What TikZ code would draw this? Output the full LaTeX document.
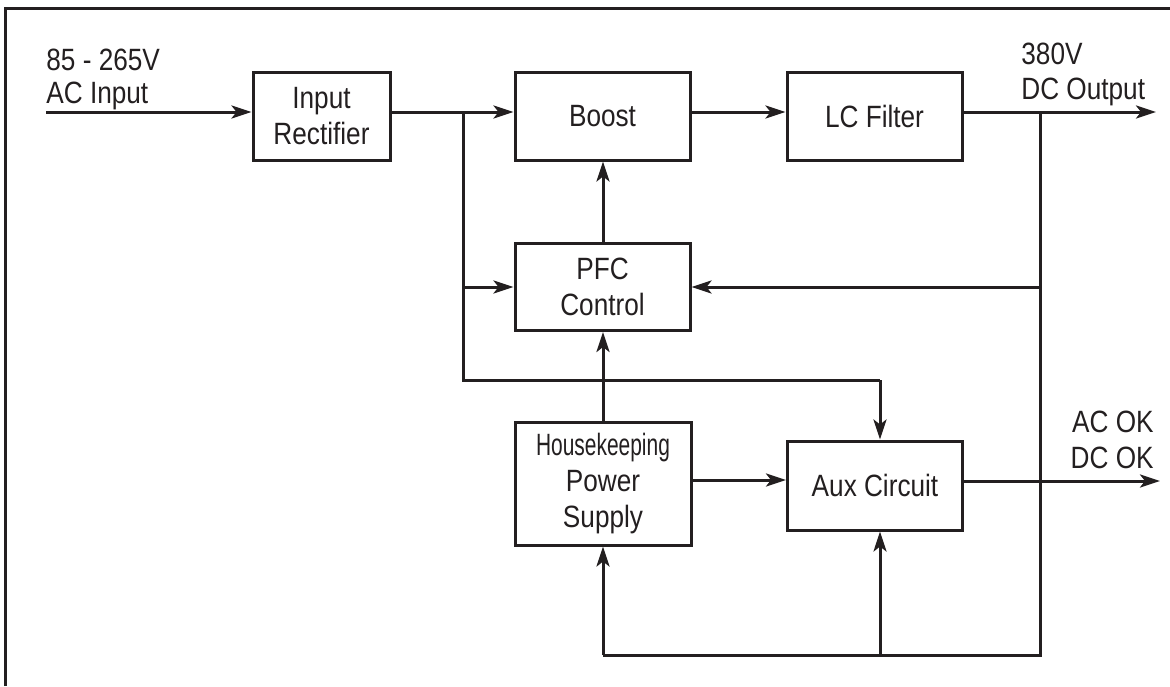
\documentclass[tikz,border=0pt]{standalone}
\usepackage{fontspec}
\setmainfont[FakeStretch=0.85]{Liberation Sans}
\usetikzlibrary{arrows.meta}
\definecolor{ink}{HTML}{231F20}
\tikzset{
  blk/.style={draw=ink, line width=1.5pt, rectangle, inner sep=0pt, align=center,
    font=\fontsize{15.4pt}{18pt}\selectfont, text=ink},
  wire/.style={draw=ink, line width=1.5pt},
  arr/.style={wire, -{Stealth[length=10pt,width=6.5pt,inset=2.5pt]}},
  lbl/.style={inner sep=0pt, font=\fontsize{15.4pt}{18pt}\selectfont, text=ink}
}
\begin{document}
\begin{tikzpicture}[x=0.5pt,y=-0.5pt]
\useasboundingbox (0,0) rectangle (1170,686);
\fill[white] (0,0) rectangle (1170,686);
% outer frame (cropped)
\draw[wire] (5.5,686) -- (5.5,8.5) -- (1170,8.5);

% blocks
\node[blk, minimum width=68.5pt, minimum height=44pt] (rect) at (321.5,116) {Input\\Rectifier};
\node[blk, minimum width=87.5pt, minimum height=44pt] (boost) at (602.5,116) {Boost};
\node[blk, minimum width=87.5pt, minimum height=44pt] (lc) at (874.5,116) {LC Filter};
\node[blk, minimum width=87.5pt, minimum height=43.5pt] (pfc) at (602.5,287) {PFC\\Control};
\node[blk, minimum width=88pt, minimum height=61.5pt] (hk) at (603,483.5) {\scalebox{0.8}[1]{Housekeeping}\\Power\\Supply};
\node[blk, minimum width=87.5pt, minimum height=44.5pt] (aux) at (875,485.5) {Aux Circuit};

% labels
\node[lbl, anchor=base west] (in1) at (46,70) {85 - 265V};
\node[lbl, anchor=base west] (in2) at (46,103) {AC Input};
\node[lbl, anchor=base west] (out1) at (1021,64) {380V};
\node[lbl, anchor=base west] (out2) at (1021,99) {DC Output};
\node[lbl, anchor=base east] (ok1) at (1154,432) {AC OK};
\node[lbl, anchor=base east] (ok2) at (1154,468) {DC OK};

% coordinates
\coordinate (inL) at (46,112);
\coordinate (j1) at (463,112);
\coordinate (j2) at (463,380);
\coordinate (a1) at (880,380);
\coordinate (j4) at (1040,112);
\coordinate (outR) at (1156,112);
\coordinate (b1) at (1040,655);
\coordinate (b2) at (603,655);
\coordinate (b3) at (880,655);
\coordinate (okR) at (1160,481);
\coordinate (hkR) at (691,480);

% connectors
\draw[arr] (inL) -- (inL -| rect.west);
\draw[arr] (rect.east |- inL) -- (boost.west |- inL);
\draw[arr] (boost.east |- inL) -- (lc.west |- inL);
\draw[arr] (lc.east |- inL) -- (outR);
\draw[wire] (j1) -- (j2) -- (a1);
\draw[arr] (a1) -- (a1 |- aux.north);
\draw[arr] (j1 |- pfc.west) -- (pfc.west);
\draw[wire] (j4) -- (b1) -- (b2);
\draw[arr] (j4 |- pfc.east) -- (pfc.east);
\draw[arr] (b2) -- (b2 |- hk.south);
\draw[arr] (b3) -- (b3 |- aux.south);
\draw[arr] (hk.north -| b2) -- (pfc.south -| b2);
\draw[arr] (pfc.north -| b2) -- (boost.south -| b2);
\draw[arr] (hkR) -- (hkR -| aux.west);
\draw[arr] (aux.east |- okR) -- (okR);
\end{tikzpicture}
\end{document}
